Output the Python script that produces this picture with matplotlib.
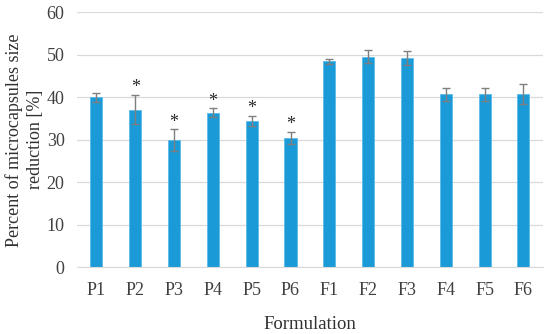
import matplotlib.pyplot as plt

formulations = ["P1", "P2", "P3", "P4", "P5", "P6", "F1", "F2", "F3", "F4", "F5", "F6"]
reduction = [40.0, 37.1, 29.9, 36.4, 34.5, 30.4, 48.5, 49.6, 49.2, 40.7, 40.7, 40.8]
errors = [1.1, 3.5, 2.6, 1.0, 1.2, 1.5, 0.6, 1.6, 1.7, 1.6, 1.6, 2.3]
significant = [False, True, True, True, True, True, False, False, False, False, False, False]

plt.rcParams['font.family'] = ['Liberation Serif', 'DejaVu Serif']

fig = plt.figure(figsize=(5.5, 3.34), dpi=100)
ax = fig.add_axes([0.14, 0.2, 0.847, 0.763])

x = range(len(formulations))
ax.bar(x, reduction, width=0.31, color="#1a9ad6", edgecolor="#5bbbe8", linewidth=0.6, zorder=2)
ax.errorbar(x, reduction, yerr=errors, fmt="none", ecolor="#7f7f7f", elinewidth=1.0,
            capsize=3, capthick=1.0, zorder=3)

for i, (v, e, s) in enumerate(zip(reduction, errors, significant)):
    if s:
        ax.annotate("*", (i, v + e), xytext=(0, -1), textcoords="offset points",
                    ha="center", va="bottom", fontsize=13, color="#262626")

ax.set_xlim(-0.5, len(formulations) - 0.5)
ax.set_ylim(0, 60)
ax.set_yticks(range(0, 61, 10))
ax.set_xticks(list(x))
ax.set_xticklabels(formulations)
ax.yaxis.grid(True, color="#d9d9d9", linewidth=0.9, zorder=0)
ax.set_axisbelow(True)
for side in ["top", "right", "left"]:
    ax.spines[side].set_visible(False)
ax.spines["bottom"].set_color("#d9d9d9")
ax.tick_params(axis="both", length=0, labelsize=13, colors="#404040", pad=9)
ax.tick_params(axis="x", pad=11)

ax.set_ylabel("Percent of microcapsules size\nreduction [%]", fontsize=13, color="#303030",
              linespacing=1.3, va="center")
ax.yaxis.set_label_coords(-0.113, 0.5)
ax.set_xlabel("Formulation", fontsize=13.5, color="#303030", labelpad=12)

fig.savefig("out.png", dpi=100)
